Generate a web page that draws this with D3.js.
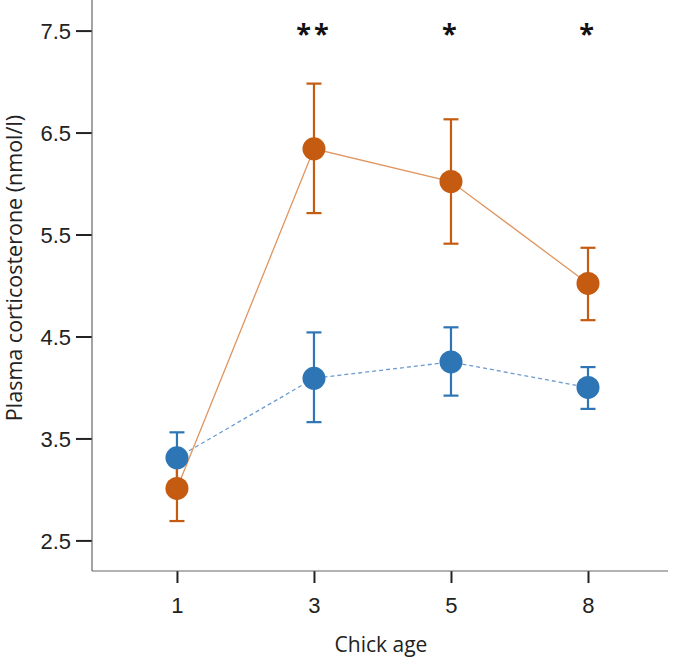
<!DOCTYPE html>
<html>
<head>
<meta charset="utf-8">
<script src="https://cdn.jsdelivr.net/npm/d3@7"></script>
<style>
  html, body { margin: 0; padding: 0; background: #fff; }
  svg { display: block; font-family: "Open Sans", "Noto Sans", sans-serif; }
</style>
</head>
<body>
<svg id="chart" width="676" height="660"></svg>
<script>
// ---- data ----
const ages = ["1", "3", "5", "8"];
const yTicks = [2.5, 3.5, 4.5, 5.5, 6.5, 7.5];
const orangeMean  = [3.01, 6.34, 6.02, 5.02];
const orangeUpper = [3.32, 6.98, 6.63, 5.37];
const orangeLower = [2.69, 5.71, 5.41, 4.66];
const blueMean  = [3.31, 4.09, 4.25, 4.00];
const blueUpper = [3.56, 4.54, 4.59, 4.20];
const blueLower = [3.06, 3.66, 3.92, 3.79];
const significance = ["", "**", "*", "*"];
const yLabel = "Plasma corticosterone (nmol/l)";
const xLabel = "Chick age";

// ---- layout ----
const svg = d3.select("#chart");
const mLeft = 92, mRight = 668, mTop = 0, mBottom = 571;

const x = d3.scalePoint().domain(ages).range([mLeft, mRight]).padding(0.602).align(0.515);
const y = d3.scaleLinear().domain([2.2, 7.8]).range([mBottom, mTop]);

const orange = "#C55A11", orangeLine = "#E0955F";
const blue = "#2E75B6", blueLine = "#6D9BD1";
const textColor = "#222";

// axes
const yAxis = d3.axisLeft(y).tickValues(yTicks).tickFormat(d3.format(".1f")).tickSize(16).tickSizeOuter(0).tickPadding(5);
const gy = svg.append("g").attr("transform", `translate(${mLeft},0)`).call(yAxis);
gy.select(".domain").remove();
gy.selectAll(".tick line").attr("stroke", "#222").attr("stroke-width", 2);
gy.selectAll(".tick text").attr("fill", textColor).style("font-size", "22px").attr("dy", "0.35em");

const xAxis = d3.axisBottom(x).tickSize(12).tickSizeOuter(0).tickPadding(14);
const gx = svg.append("g").attr("transform", `translate(0,${mBottom})`).call(xAxis);
gx.select(".domain").remove();
gx.selectAll(".tick line").attr("stroke", "#222").attr("stroke-width", 2);
gx.selectAll(".tick text").attr("fill", textColor).style("font-size", "22px");

// axis lines
svg.append("line").attr("x1", mLeft).attr("x2", mLeft).attr("y1", mTop).attr("y2", mBottom)
  .attr("stroke", "#666").attr("stroke-width", 1.2);
svg.append("line").attr("x1", mLeft).attr("x2", mRight).attr("y1", mBottom).attr("y2", mBottom)
  .attr("stroke", "#666").attr("stroke-width", 1.2);

// axis titles
svg.append("text").attr("x", 381).attr("y", 652).attr("text-anchor", "middle")
  .attr("fill", textColor).style("font-size", "21px").text(xLabel);
svg.append("text").attr("transform", "translate(22,268) rotate(-90)").attr("text-anchor", "middle")
  .attr("fill", textColor).style("font-size", "21.5px").text(yLabel);

// series
function drawBars(mean, upper, lower, color) {
  const pts = ages.map((a, i) => ({ a, m: mean[i], u: upper[i], l: lower[i] }));
  const eb = svg.append("g").selectAll("g").data(pts).join("g");
  eb.append("line").attr("x1", d => x(d.a)).attr("x2", d => x(d.a))
    .attr("y1", d => y(d.u)).attr("y2", d => y(d.l)).attr("stroke", color).attr("stroke-width", 2.2);
  eb.append("line").attr("x1", d => x(d.a) - 7.5).attr("x2", d => x(d.a) + 7.5)
    .attr("y1", d => y(d.u)).attr("y2", d => y(d.u)).attr("stroke", color).attr("stroke-width", 2.2);
  eb.append("line").attr("x1", d => x(d.a) - 7.5).attr("x2", d => x(d.a) + 7.5)
    .attr("y1", d => y(d.l)).attr("y2", d => y(d.l)).attr("stroke", color).attr("stroke-width", 2.2);
  return pts;
}
function drawLine(pts, lineColor, dash) {
  const line = d3.line().x(d => x(d.a)).y(d => y(d.m));
  svg.append("path").datum(pts).attr("d", line).attr("fill", "none")
    .attr("stroke", lineColor).attr("stroke-width", 1.3).attr("stroke-dasharray", dash);
}
function drawDots(pts, color) {
  svg.append("g").selectAll("circle").data(pts).join("circle")
    .attr("cx", d => x(d.a)).attr("cy", d => y(d.m)).attr("r", 11.5).attr("fill", color);
}

const bPts = drawBars(blueMean, blueUpper, blueLower, blue);
const oPts = drawBars(orangeMean, orangeUpper, orangeLower, orange);
drawLine(bPts, blueLine, "4,3");
drawLine(oPts, orangeLine, null);
drawDots(oPts, orange);
drawDots(bPts, blue);

// significance stars
svg.selectAll("text.sig").data(ages.map((a, i) => ({ a, s: significance[i] })))
  .join("text").attr("class", "sig")
  .attr("x", d => x(d.a)).attr("y", 43).attr("text-anchor", "middle")
  .attr("fill", "#111").style("font-size", "27px").style("font-weight", "bold")
  .style("letter-spacing", "3px")
  .text(d => d.s);
</script>
</body>
</html>
